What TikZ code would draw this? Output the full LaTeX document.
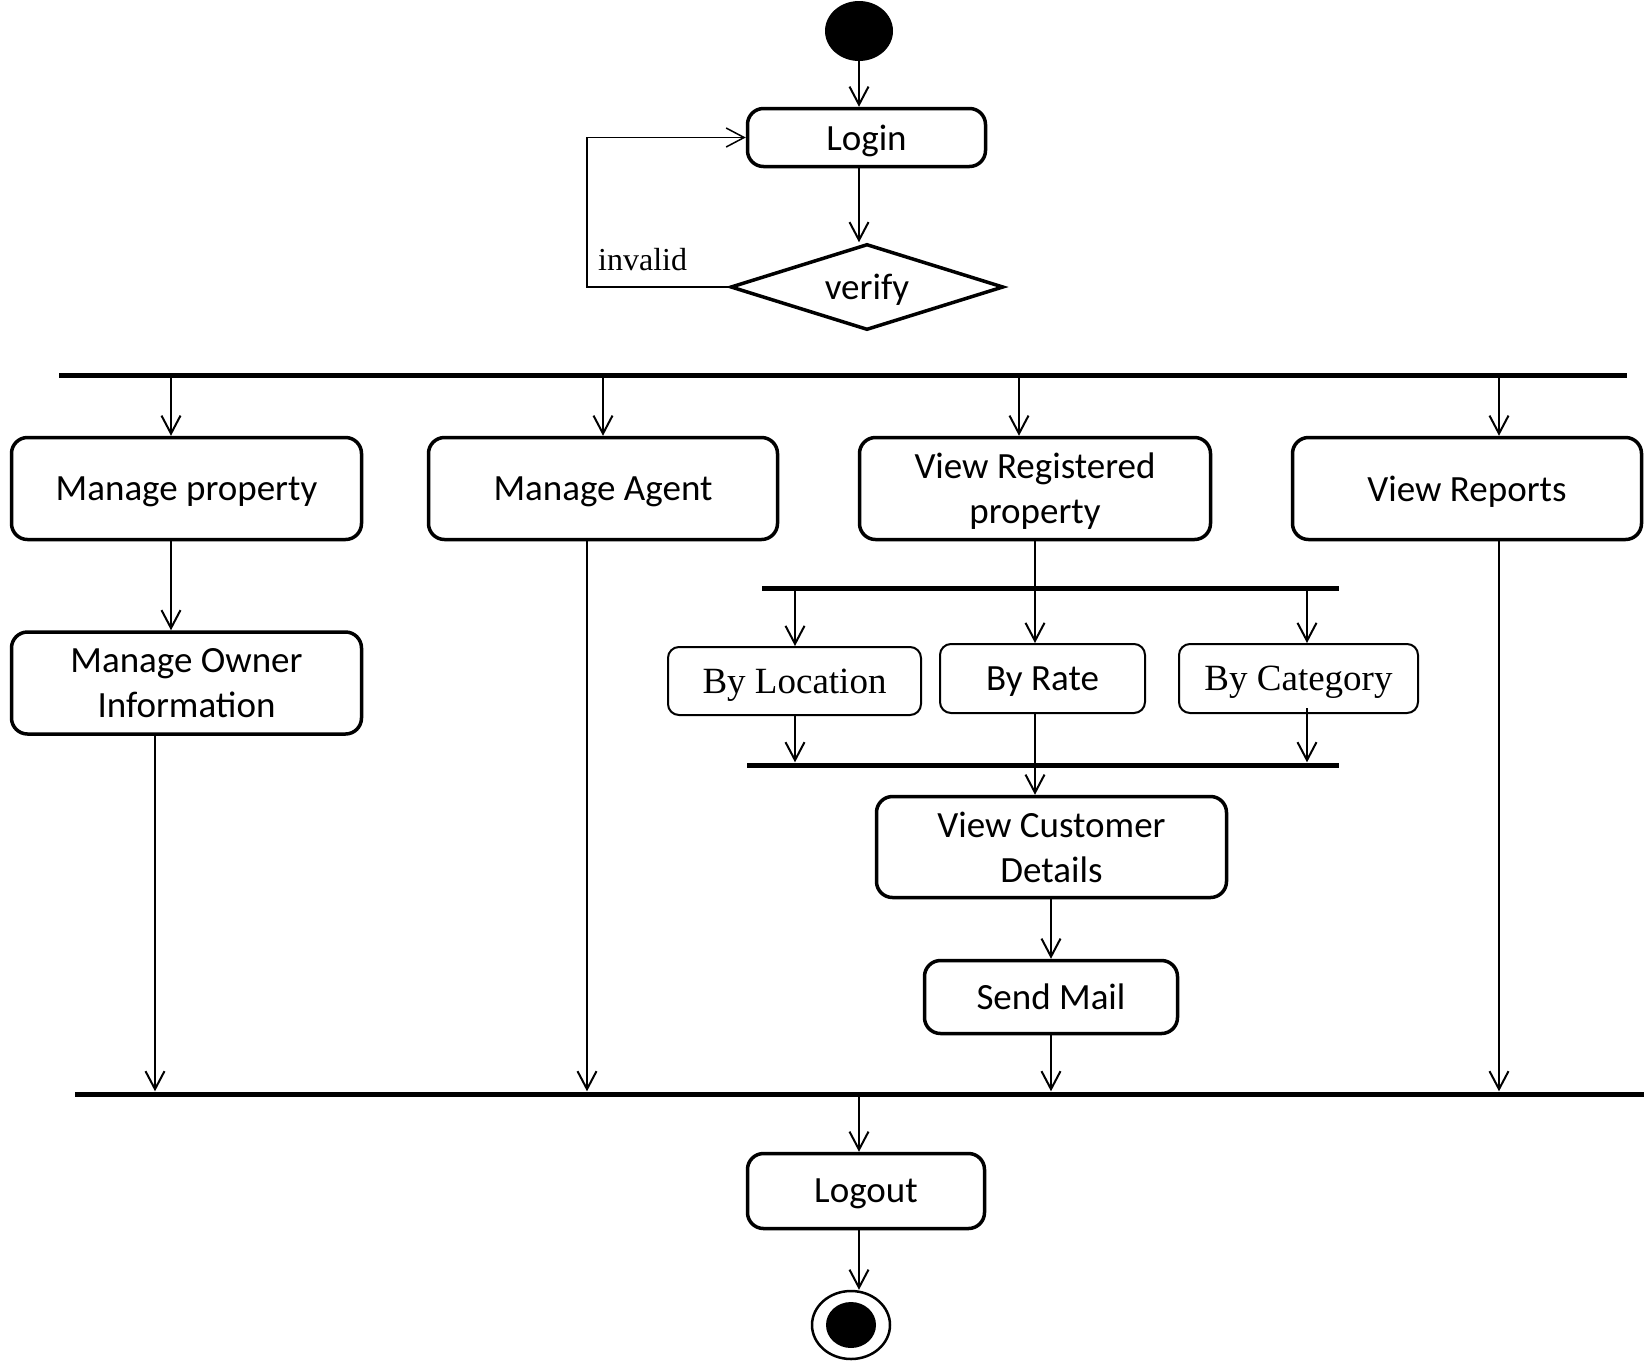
\documentclass[tikz,border=0pt]{standalone}
\usepackage{fontspec}
\setmainfont{Carlito}
\newfontfamily\tnr{Liberation Serif}
\usetikzlibrary{arrows.meta,shapes.geometric,calc}
\begin{document}
\begin{tikzpicture}[x=1pt,y=-1pt,
  act/.style={draw, line width=3.5pt, rounded corners=16pt, inner sep=0pt, text depth=0pt, align=center, font=\fontsize{37}{45}\selectfont},
  sact/.style={draw, line width=2pt, rounded corners=11pt, inner sep=0pt, text depth=0pt, align=center, font=\fontsize{37}{45}\selectfont},
  serifact/.style={sact, font=\tnr\fontsize{37}{45}\selectfont},
  conn/.style={line width=2pt, -{Straight Barb[length=18pt,width=19pt]}},
  barnode/.style={fill, inner sep=0pt, minimum height=5pt},
]
\useasboundingbox (0,0) rectangle (1644,1361);

% column coordinates
\coordinate (c0) at (587,0);
\coordinate (c1) at (171,0);
\coordinate (c3) at (1019,0);
\coordinate (c4) at (1499,0);
\coordinate (c5) at (155,0);
\coordinate (c6) at (587,0);
\coordinate (c7) at (1035,0);
\coordinate (c8) at (795,0);
\coordinate (c9) at (1307,0);
\coordinate (c10) at (1051,0);
\coordinate (c11) at (859,0);

% nodes
\node[ellipse, fill, minimum width=68pt, minimum height=60pt, inner sep=0pt] (start) at (859,31) {};
\node[act, minimum width=238pt, minimum height=58pt] (login) at (866.5,137.5) {Login};
\node[diamond, draw, line width=3.5pt, aspect=3, minimum width=273pt, minimum height=86pt, inner sep=0pt, text depth=0pt, font=\fontsize{37}{45}\selectfont] (verify) at (867,287) {verify};
\node[anchor=base west, font=\tnr\fontsize{32}{38}\selectfont, inner sep=0pt] (inv) at (598,270) {invalid};

\node[barnode, minimum width=1568pt] (bar1) at (843,375) {};
\node[barnode, minimum width=577pt] (bar2) at (1050.5,588) {};
\node[barnode, minimum width=592pt] (bar3) at (1043,765) {};
\node[barnode, minimum width=1569pt] (bar4) at (859.5,1094) {};

\node[act, minimum width=350pt, minimum height=102pt] (mprop) at (186.5,488.5) {Manage property};
\node[act, minimum width=349pt, minimum height=102pt] (magent) at (603,488.5) {Manage Agent};
\node[act, minimum width=351pt, minimum height=102pt] (vreg) at (1035,488.5) {View Registered\\property};
\node[act, minimum width=349pt, minimum height=102pt] (vrep) at (1467,488.5) {View Reports};
\node[act, minimum width=350pt, minimum height=102pt] (mown) at (186.5,683) {Manage Owner\\Information};

\node[serifact, minimum width=253pt, minimum height=68pt] (bloc) at (794.5,681) {By Location};
\node[sact, minimum width=205pt, minimum height=69pt] (brate) at (1042.5,678.5) {By Rate};
\node[serifact, minimum width=239pt, minimum height=69pt] (bcat) at (1298.5,678.5) {By Category};

\node[act, minimum width=350pt, minimum height=101pt] (vcd) at (1051.5,847) {View Customer\\Details};
\node[act, minimum width=253pt, minimum height=73pt] (mail) at (1051,997) {Send Mail};
\node[act, minimum width=237pt, minimum height=75pt] (logout) at (866,1191) {Logout};

\node[ellipse, draw, line width=2.5pt, minimum width=78pt, minimum height=68pt, inner sep=0pt] (end) at (851,1325) {};
\node[ellipse, fill, minimum width=50pt, minimum height=46pt, inner sep=0pt] (endin) at (end.center) {};

% connectors
\draw[conn] (start.south) -- (start.south |- login.north);
\draw[conn] (login.south -| c11) -- (verify.north -| c11);
\draw[conn, line width=1.5pt] (verify.west) -- (verify.west -| c0) |- (login.west);

\draw[conn] (bar1.south -| c1) -- (mprop.north -| c1);
\draw[conn] (bar1.south -| magent) -- (magent.north);
\draw[conn] (bar1.south -| c3) -- (vreg.north -| c3);
\draw[conn] (bar1.south -| c4) -- (vrep.north -| c4);

\draw[conn] (mprop.south -| c1) -- (mown.north -| c1);
\draw[conn] (mown.south -| c5) -- (bar4.north -| c5);
\draw[conn] (magent.south -| c6) -- (bar4.north -| c6);
\draw[conn] (vrep.south -| c4) -- (bar4.north -| c4);

\draw[conn] (vreg.south -| c7) -- (brate.north -| c7);
\draw[conn] (bar2.south -| c8) -- (bloc.north -| c8);
\draw[conn] (bar2.south -| c9) -- (bcat.north -| c9);
\draw[conn] (bloc.south -| c8) -- (bar3.north -| c8);
\draw[conn] ($(bcat.south -| c9)+(0,-6)$) -- (bar3.north -| c9);
\draw[conn] (brate.south -| c7) -- (vcd.north -| c7);

\draw[conn] (vcd.south -| c10) -- (mail.north -| c10);
\draw[conn] (mail.south -| c10) -- (bar4.north -| c10);
\draw[conn] (bar4.south -| c11) -- (logout.north -| c11);
\draw[conn] (logout.south -| c11) -- (end.north -| c11);
\end{tikzpicture}
\end{document}
